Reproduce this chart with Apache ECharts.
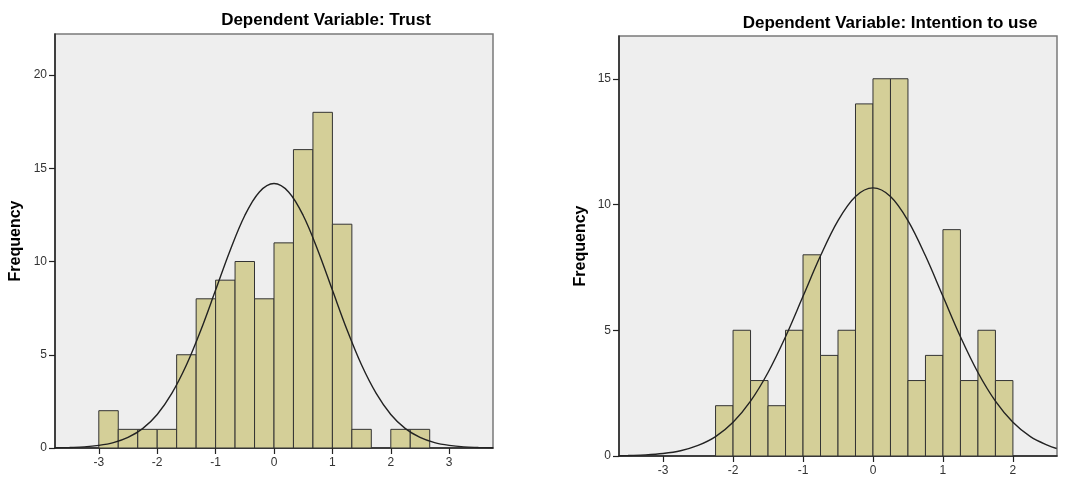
<!DOCTYPE html>
<html>
<head>
    <meta charset="utf-8">
    <title>Histograms</title>
    <style>
        * { margin: 0; padding: 0; }
        body { background: #fff; }
        #main { width: 1082px; height: 480px; }
    </style>
    <script src="https://cdn.jsdelivr.net/npm/echarts@6/dist/echarts.min.js"></script>
</head>
<body>
    <div id="main"></div>
    <script type="text/javascript">
        // Trust: bin lower edges and frequencies
        var trustBins = [-3.000, -2.667, -2.333, -2.000, -1.667, -1.333, -1.000, -0.667, -0.333,
                          0.000, 0.333, 0.667, 1.000, 1.333, 1.667, 2.000, 2.333];
        var trustBinWidth = 0.3333;
        var trustCounts = [2, 1, 1, 1, 5, 8, 9, 10, 8, 11, 16, 18, 12, 1, 0, 1, 1];
        // fitted normal curve
        var trustCurveX = [-3.75, -3.5, -3.25, -3, -2.75, -2.5, -2.25, -2, -1.75, -1.5, -1.25, -1, -0.75, -0.5, -0.25,
                            0, 0.25, 0.5, 0.75, 1, 1.25, 1.5, 1.75, 2, 2.25, 2.5, 2.75, 3, 3.25, 3.5, 3.75];
        var trustCurveY = [0.01, 0.03, 0.06, 0.14, 0.29, 0.57, 1.04, 1.80, 2.93, 4.45, 6.34, 8.47, 10.61, 12.47, 13.73,
                           14.18, 13.73, 12.47, 10.61, 8.47, 6.34, 4.45, 2.93, 1.80, 1.04, 0.57, 0.29, 0.14, 0.06, 0.03, 0.01];
        var trustXTicks = [-3, -2, -1, 0, 1, 2, 3];
        var trustYTicks = [0, 5, 10, 15, 20];

        // Intention to use
        var intentBins = [-2.25, -2.00, -1.75, -1.50, -1.25, -1.00, -0.75, -0.50, -0.25,
                           0.00, 0.25, 0.50, 0.75, 1.00, 1.25, 1.50, 1.75];
        var intentBinWidth = 0.25;
        var intentCounts = [2, 5, 3, 2, 5, 8, 4, 5, 14, 15, 15, 3, 4, 9, 3, 5, 3];
        var intentCurveX = [-3.625, -3.5, -3.25, -3, -2.75, -2.5, -2.25, -2, -1.75, -1.5, -1.25, -1, -0.75, -0.5, -0.25,
                             0, 0.25, 0.5, 0.75, 1, 1.25, 1.5, 1.75, 2, 2.25, 2.5, 2.625];
        var intentCurveY = [0.01, 0.02, 0.045, 0.10, 0.21, 0.42, 0.77, 1.34, 2.18, 3.32, 4.74, 6.35, 7.96, 9.36, 10.32,
                            10.66, 10.32, 9.36, 7.96, 6.35, 4.74, 3.32, 2.18, 1.34, 0.77, 0.42, 0.30];
        var intentXTicks = [-3, -2, -1, 0, 1, 2];
        var intentYTicks = [0, 5, 10, 15];

        var FONT = 'Arial, "Liberation Sans", sans-serif';

        function histData(bins, width, counts) {
            return bins.map(function (b, i) { return [b, b + width, counts[i]]; });
        }
        function curveData(xs, ys) {
            return xs.map(function (x, i) { return [x, ys[i]]; });
        }

        function renderBar(params, api) {
            var c = api.value(2);
            if (!c) return null;
            var p0 = api.coord([api.value(0), 0]);
            var p1 = api.coord([api.value(1), c]);
            return {
                type: 'rect',
                shape: { x: p0[0], y: p1[1], width: p1[0] - p0[0], height: p0[1] - p1[1] },
                style: { fill: '#d4cf98', stroke: '#333', lineWidth: 1 }
            };
        }

        function xAxisOpt(idx, min, max, ticks) {
            return {
                type: 'value', gridIndex: idx, min: min, max: max,
                splitLine: { show: false },
                axisLine: { onZero: false, lineStyle: { color: '#222', width: 1.5 } },
                axisTick: { length: 6, lineStyle: { color: '#222', width: 1.2 }, customValues: ticks },
                axisLabel: { color: '#333', fontSize: 12, fontFamily: FONT, margin: 9, customValues: ticks }
            };
        }
        function yAxisOpt(idx, max, ticks, gap) {
            return {
                type: 'value', gridIndex: idx, min: 0, max: max,
                name: 'Frequency', nameLocation: 'middle', nameRotate: 90, nameGap: gap,
                nameTextStyle: { color: '#000', fontSize: 16, fontWeight: 'bold', fontFamily: FONT },
                splitLine: { show: false },
                axisLine: { show: true, onZero: false, lineStyle: { color: '#222', width: 1.5 } },
                axisTick: { show: true, length: 6, lineStyle: { color: '#222', width: 1.2 }, customValues: ticks },
                axisLabel: { color: '#333', fontSize: 12, fontFamily: FONT, margin: 8, customValues: ticks }
            };
        }

        var chart = echarts.init(document.getElementById('main'));
        var option = {
            animation: false,
            graphic: [
                { type: 'text', x: 326, y: 20, style: { text: 'Dependent Variable: Trust', fill: '#000',
                    font: 'bold 17px ' + FONT, textAlign: 'center', textVerticalAlign: 'middle' } },
                { type: 'text', x: 890, y: 23, style: { text: 'Dependent Variable: Intention to use', fill: '#000',
                    font: 'bold 17px ' + FONT, textAlign: 'center', textVerticalAlign: 'middle' } }
            ],
            grid: [
                { left: 55, top: 34, width: 438, height: 414, show: true, backgroundColor: '#eeeeee',
                  borderColor: '#7a7a7a', borderWidth: 1.5 },
                { left: 619, top: 36, width: 438, height: 420, show: true, backgroundColor: '#eeeeee',
                  borderColor: '#7a7a7a', borderWidth: 1.5 }
            ],
            xAxis: [
                xAxisOpt(0, -3.75, 3.75, trustXTicks),
                xAxisOpt(1, -3.63, 2.63, intentXTicks)
            ],
            yAxis: [
                yAxisOpt(0, 22.2, trustYTicks, 31),
                yAxisOpt(1, 16.7, intentYTicks, 30)
            ],
            series: [
                { type: 'custom', xAxisIndex: 0, yAxisIndex: 0, renderItem: renderBar,
                  encode: { x: [0, 1], y: 2 }, data: histData(trustBins, trustBinWidth, trustCounts) },
                { type: 'line', xAxisIndex: 0, yAxisIndex: 0, smooth: 0.35, showSymbol: false, z: 3,
                  lineStyle: { color: '#222', width: 1.4 }, data: curveData(trustCurveX, trustCurveY) },
                { type: 'custom', xAxisIndex: 1, yAxisIndex: 1, renderItem: renderBar,
                  encode: { x: [0, 1], y: 2 }, data: histData(intentBins, intentBinWidth, intentCounts) },
                { type: 'line', xAxisIndex: 1, yAxisIndex: 1, smooth: 0.35, showSymbol: false, z: 3,
                  lineStyle: { color: '#222', width: 1.4 }, data: curveData(intentCurveX, intentCurveY) }
            ]
        };
        chart.setOption(option);
    </script>
</body>
</html>
